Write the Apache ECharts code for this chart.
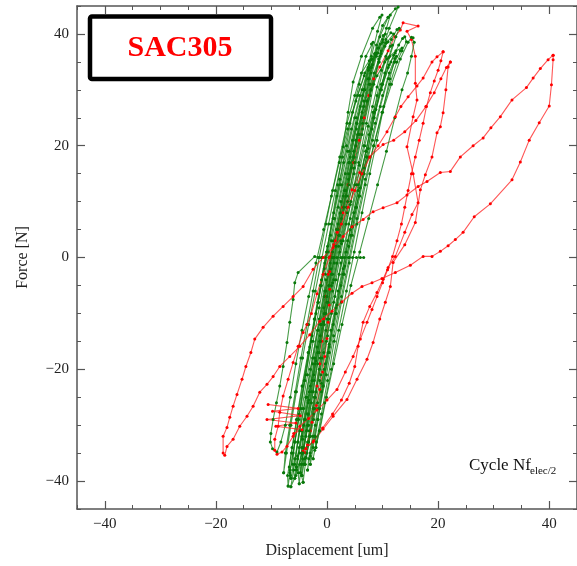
<!DOCTYPE html>
<html><head><meta charset="utf-8">
<script src="https://cdn.jsdelivr.net/npm/echarts@6/dist/echarts.min.js"></script>
<style>html,body{margin:0;padding:0;background:#fff}#c{width:577px;height:566px}</style>
</head><body><div id="c"></div>
<script>
const xTicks = [-40, -20, 0, 20, 40];
const yTicks = [-40, -20, 0, 20, 40];
const titleText = 'SAC305';
const xName = 'Displacement [um]';
const yName = 'Force [N]';

const greenLoop1 = [[-5.5,-38],[-5,-35],[-4.2,-30],[-3.2,-24],[-2.2,-18],[-1.2,-12],[-0.2,-6],[0.9,0],[2,6],[3.1,12],[4.2,18],[5.4,24],[6.8,30],[8.2,34.5],[9.4,37.5],[10,38.5],[9.6,38.2],[8.6,36.5],[7.4,32],[6,27],[4.6,21],[3.3,15],[2,9],[0.8,3],[-0.3,-3],[-1.4,-9],[-2.5,-15],[-3.5,-21],[-4.5,-27],[-5.3,-33],[-5.8,-37],[-5.5,-38]];
const greenLoop2 = [[-4.5,-39],[-4,-36],[-3.2,-31],[-2.3,-25],[-1.2,-18],[0,-11],[1.2,-4],[2.5,3],[3.7,10],[5,17],[6.4,24],[7.9,30],[9.4,35],[10.8,38.5],[12,40],[11.5,40.2],[10.6,39],[9.3,35],[7.8,29],[6.3,22],[4.9,15],[3.6,8],[2.3,1],[1,-6],[-0.2,-13],[-1.4,-20],[-2.5,-27],[-3.5,-33],[-4.3,-37],[-4.5,-39]];
const greenLoop3 = [[-7,-40.9],[-6.6,-38],[-5.8,-33],[-4.8,-27],[-3.8,-21],[-2.7,-14],[-1.6,-8],[-0.5,-2],[0.6,4],[1.8,11],[3,17],[4.4,23],[5.9,29],[7.5,33.5],[9,36.6],[8.6,36.4],[7.6,34.5],[6.3,30],[5,25],[3.7,19],[2.4,13],[1.1,7],[-0.1,1],[-1.2,-5],[-2.3,-11],[-3.4,-17],[-4.5,-23],[-5.5,-29],[-6.4,-35],[-7.1,-39],[-7,-40.9]];
const greenLoop4 = [[-6.5,-39.5],[-5.8,-36],[-4.9,-31],[-3.8,-25],[-2.6,-18],[-1.4,-11],[-0.2,-4],[1.1,3],[2.5,10],[3.9,17],[5.3,24],[6.7,30],[8,36],[9.1,40.5],[9.9,43.4],[9.5,43],[8.2,41],[6.2,36],[4.7,31.4],[3.8,26],[2.9,19.8],[1.9,13],[0.8,6],[-0.4,-1],[-1.6,-8],[-2.8,-15],[-4,-22],[-5.1,-29],[-6.1,-35],[-6.7,-38.5],[-6.5,-39.5]];
const greenLoop5 = [[-5,-40.5],[-4.6,-37],[-3.8,-32],[-2.8,-26],[-1.7,-19],[-0.5,-12],[0.8,-5],[2.1,2],[3.5,9],[4.9,16],[6.4,23],[7.9,30],[9.5,36],[11.2,41],[12.8,44.8],[12.3,44.5],[11,43],[9.5,39.5],[8,34],[6.6,28],[5.2,21],[3.9,14],[2.6,7],[1.3,0],[0,-7],[-1.2,-14],[-2.4,-21],[-3.5,-28],[-4.5,-34],[-5.2,-38.5],[-5,-40.5]];
const greenLoop6 = [[-4.3,-40.2],[-3.9,-37],[-3.1,-32],[-2.1,-25],[-0.9,-18],[0.3,-11],[1.6,-4],[2.9,3],[4.3,10],[5.7,17],[7.1,24],[8.4,31],[9.7,37],[10.7,41],[11.4,43.4],[11,43],[10,41.5],[8.9,38],[7.6,32],[6.2,25],[4.8,18],[3.4,11],[2.1,4],[0.8,-3],[-0.5,-10],[-1.7,-17],[-2.8,-24],[-3.7,-31],[-4.4,-36],[-4.6,-39],[-4.3,-40.2]];
const greenLoop7 = [[-3,-37],[-2.5,-34],[-1.7,-29],[-0.7,-23],[0.4,-16],[1.6,-9],[2.9,-2],[4.2,5],[5.6,12],[7,19],[8.5,26],[10,31],[11.5,35],[12.9,38],[13.6,39.2],[14,39.5],[14.3,38.6],[13.5,37],[12.6,35],[11.3,31],[9.9,26],[8.4,20],[6.9,14],[5.4,7],[4,0],[2.6,-7],[1.2,-14],[-0.1,-21],[-1.3,-27],[-2.3,-32],[-3,-35.5],[-3,-37]];
const greenLoop8 = [[-2.5,-36],[-1.9,-33],[-1,-28],[0.1,-22],[1.3,-15],[2.6,-8],[4,-1],[5.4,6],[6.9,13],[8.4,20],[10,26],[11.6,31],[13.2,35.5],[14.6,38.5],[15.2,39.4],[15.5,39.3],[15.7,38.5],[15.2,36],[14.5,33],[13.5,30],[12.2,25],[10.7,19],[9.1,13],[7.5,7],[5.9,1],[4.3,-5],[2.7,-12],[1.2,-19],[-0.1,-25],[-1.3,-31],[-2.2,-34.5],[-2.5,-36]];
const greenLoop9 = [[-5.5,-37.5],[-5,-34],[-4.1,-29],[-3,-23],[-1.8,-16],[-0.6,-9],[0.7,-2],[2,5],[3.4,12],[4.8,19],[6.3,26],[7.8,31],[9.3,35.5],[10.4,37.8],[11,38.6],[10.6,38.4],[9.7,36.5],[8.5,33],[7.2,28],[5.8,22],[4.4,16],[3,9],[1.6,2],[0.3,-5],[-1,-12],[-2.2,-19],[-3.4,-26],[-4.5,-32],[-5.3,-35.5],[-5.5,-37.5]];
const greenLoop10 = [[-3.8,-35.8],[-3.3,-33],[-2.4,-28],[-1.3,-22],[-0.1,-15],[1.2,-8],[2.5,-1],[3.9,6],[5.3,13],[6.8,20],[8.3,26],[9.8,31],[11.2,34.5],[12.3,36.6],[12,36.2],[11,34],[9.8,30],[8.4,25],[7,19],[5.6,13],[4.2,7],[2.8,0],[1.4,-7],[0.1,-14],[-1.1,-21],[-2.2,-27],[-3.1,-32],[-3.8,-35.8]];
const greenLoop11 = [[6.6,0],[6,0],[5.3,0],[4.6,0],[3.9,0],[3.2,0],[2.5,0],[1.8,0],[1.1,0],[0.4,0],[-0.3,0],[-1,0],[-1.6,0],[-2.2,0.2],[-5.2,-2.7],[-5.8,-4.5],[-6.1,-7.5],[-6.7,-11.6],[-7.2,-15.2],[-7.9,-19.5],[-8.5,-23],[-9.1,-26],[-9.7,-29],[-10.1,-31.5],[-10.2,-33],[-9.8,-34.2],[-9,-34.8],[-8.3,-33],[-7.5,-30],[-6.6,-25],[-5.6,-19],[-4.5,-13],[-3.3,-7],[-2,-1],[-0.6,5],[0.8,11],[2.2,17],[3.7,23],[5.2,28],[6.7,32.5],[8.1,35.5],[9.2,36.6],[8.8,36.4],[7.8,34],[6.6,30],[5.3,25],[4,19],[2.7,13],[1.4,7],[0.2,1],[-1,-5],[-2.2,-11],[-3.3,-17],[-4.4,-23],[-5.4,-29],[-6.3,-34],[-6.8,-37.5],[-6.6,-39]];
const greenLoop12 = [[-6.5,-41],[-6,-38],[-5.2,-33],[-4.2,-27],[-3,-20],[-1.7,-13],[-0.4,-6],[1,1],[2.4,8],[3.9,15],[5.5,22],[7.2,28],[9,32.5],[10.8,35.5],[12.4,37],[13.5,37.5],[13.2,37],[12.2,35],[11,32],[9.6,27],[8.2,21],[6.7,15],[5.2,9],[3.7,3],[2.2,-3],[0.8,-10],[-0.6,-17],[-2,-24],[-3.3,-30],[-4.5,-35],[-5.6,-39],[-6.5,-41]];
const greenLoop13 = [[-5.8,-39.5],[-5.3,-36],[-4.5,-31],[-3.6,-25],[-2.6,-19],[-1.6,-13],[-0.5,-7],[0.6,-1],[1.7,5],[2.9,11],[4.1,17],[5.3,23],[6.4,29],[7.4,34],[8.3,38.5],[8,38.2],[7,36],[5.8,31],[4.6,26],[3.5,20],[2.3,14],[1.2,8],[0.1,2],[-1,-4],[-2,-10],[-3.1,-16],[-4.1,-22],[-5,-28],[-5.8,-33],[-6.2,-37],[-5.8,-39.5]];
const greenLoop14 = [[-4.8,-38.5],[-4.3,-35],[-3.5,-30],[-2.5,-24],[-1.4,-17],[-0.2,-10],[1,-3],[2.3,4],[3.6,11],[4.9,18],[6.2,25],[7.6,31],[8.9,36],[10,39],[10.5,40],[10.1,39.7],[9.1,37.5],[7.9,33],[6.6,27],[5.2,20],[3.9,13],[2.6,6],[1.3,-1],[0,-8],[-1.2,-15],[-2.3,-22],[-3.4,-28],[-4.3,-34],[-4.9,-37],[-4.8,-38.5]];
const greenLoop15 = [[-3.5,-38],[-3,-35],[-2.1,-30],[-1,-24],[0.2,-17],[1.5,-10],[2.9,-3],[4.3,4],[5.7,11],[7.1,18],[8.5,25],[9.9,31],[11.3,36],[12.4,39.5],[13,41],[12.6,40.8],[11.6,39],[10.4,35],[9,29],[7.6,22],[6.2,15],[4.8,8],[3.4,1],[2,-6],[0.7,-13],[-0.5,-20],[-1.6,-27],[-2.6,-32],[-3.3,-36],[-3.5,-38]];
const greenLoop16 = [[-2,-34],[-1.4,-31],[-0.4,-26],[0.8,-20],[2.1,-13],[3.5,-6],[4.9,1],[6.3,8],[7.7,15],[9,21],[10.2,27],[11.3,32],[12.1,35],[12.5,36],[12.2,35.6],[11.2,33],[10,29],[8.7,24],[7.3,18],[5.9,11],[4.5,4],[3.1,-3],[1.7,-10],[0.4,-17],[-0.7,-23],[-1.6,-29],[-2.1,-32],[-2,-34]];
const greenLoop17 = [[-7.8,-38.5],[-7.3,-35],[-6.5,-30],[-5.5,-24],[-4.4,-18],[-3.3,-12],[-2.1,-6],[-0.9,0],[0.3,6],[1.5,12],[2.8,18],[4.1,24],[5.5,29],[6.8,33],[8,35.5],[7.6,35.2],[6.2,33],[5,29],[3.6,24],[2.3,18],[1,12],[-0.2,6],[-1.4,0],[-2.5,-6],[-3.6,-12],[-4.7,-18],[-5.7,-24],[-6.7,-30],[-7.5,-35],[-7.8,-38.5]];
const greenLoop18 = [[-4,-37],[-3.6,-35],[-3,-32],[-2.4,-29],[-1.7,-26],[-1,-22.5],[-0.3,-19],[0.4,-15.5],[1.1,-12],[1.8,-8.5],[2.5,-5],[3.2,-1.5],[3.9,2],[4.6,5.5],[5.3,9],[6,12.5],[6.7,16],[7.4,19.5],[8.1,23],[8.8,26.5],[9.6,30],[10.4,33],[11.1,35.8],[11.8,38],[11.4,37.8],[10.6,36],[9.8,33.5],[9,30.5],[8.2,27],[7.4,23.5],[6.6,20],[5.8,16.5],[5,13],[4.2,9.5],[3.4,6],[2.6,2.5],[1.8,-1],[1,-4.5],[0.2,-8],[-0.6,-11.5],[-1.3,-15],[-2,-18.5],[-2.7,-22],[-3.3,-25.5],[-3.9,-29],[-4.4,-32.5],[-4.6,-35],[-4,-37]];

const redLoop1 = [[40.7,36.2],[39.8,35.4],[38.4,33.8],[37.1,32.1],[35.9,30.4],[33.3,28.2],[31.2,25.2],[29.5,23.2],[28.1,21.4],[26.3,20],[24,18],[22.2,15.4],[20.4,15.2],[18,13.6],[16.4,12.7],[14.4,11.2],[12.6,9.8],[10.1,8.9],[8.3,8.2],[6.5,6.8],[4.5,5.5],[2.9,3.75],[1.1,1.8],[-0.7,0],[-2.5,-2.1],[-4.3,-5.2],[-6.1,-7],[-7.9,-8.75],[-9.7,-10.5],[-11.5,-12.5],[-13,-14.6],[-13.7,-17],[-14.6,-19.5],[-15.3,-21.8],[-16.2,-24.5],[-16.9,-26.6],[-17.5,-28.6],[-18,-30.4],[-18.7,-32],[-18.7,-35],[-18.4,-35.4],[-18,-33.8],[-16.9,-32.5],[-15.7,-30.2],[-14.4,-28.4],[-13.3,-26.6],[-12.1,-24.1],[-10.8,-22.7],[-9.7,-21.3],[-8.5,-19.5],[-6.7,-17.7],[-4.9,-15.9],[-3.1,-13.8],[-1.3,-11.4],[0.9,-9.6],[2.7,-7.9],[4.5,-6.4],[6.3,-5.2],[8.1,-4.5],[9.9,-3.75],[12.3,-2.7],[15,-1.4],[17.3,0.2],[18.9,0.2],[20.4,1.1],[21.8,2.1],[23.1,3.2],[24.5,4.5],[26.5,7.3],[29.4,9.6],[33.3,13.9],[34.8,17.1],[36.4,21],[38.2,24.1],[40,27.1],[40.4,30.9],[40.7,35.4],[40.7,36.2]];
const redLoop2 = [[20.9,36.8],[19.8,35.9],[18.9,35],[17.3,32.1],[16.2,30.7],[14.6,28.75],[13.3,27],[12.3,25.2],[10.8,22.5],[9.2,20],[7.7,18],[6.3,15],[5,12],[3.8,9],[2.6,6],[1.5,3],[0.4,0],[-0.7,-3],[-1.8,-6.5],[-2.8,-10],[-3.6,-12],[-4.3,-13.4],[-5.2,-15.9],[-6.1,-18.8],[-7,-21.8],[-7.9,-24.8],[-8.5,-27.7],[-8.8,-30.2],[-9.4,-32.5],[-9.4,-34.5],[-9,-35.2],[-8.1,-34.8],[-7.2,-33.75],[-6.1,-32],[-4.9,-30.2],[-3.3,-28.8],[-1.8,-27.3],[0,-25.5],[1.8,-23.6],[3.3,-20.5],[4.7,-17.7],[6,-14.6],[7.2,-11.6],[8.1,-9.3],[9,-7],[10,-4.5],[10.9,-2.2],[11.8,0.2],[12.6,3],[13.4,6],[14,9],[14.6,12],[15.2,15],[15.9,18],[16.6,21],[17.3,24],[17.9,27],[18.6,29.5],[19.3,31.6],[20,33.5],[20.5,35.2],[20.9,36.8]];
const redLoop3 = [[22.2,35],[21.8,34.1],[21.4,30],[20.9,25.9],[20.4,23.4],[19.8,22.3],[18.9,18],[17.7,14.8],[16.8,12.1],[15.9,6.25],[14,2.3],[11.9,-0.9],[11.4,-5.2],[10.5,-8],[9.5,-11],[8.3,-15.2],[7.2,-18.2],[5.4,-21.8],[3.6,-25.4],[1.1,-28.4],[-0.7,-30.7],[-2.5,-33],[-4.3,-34.6],[-4,-34.9],[-3.5,-33.5],[-2.7,-29.5],[-1.9,-26.5],[-1.3,-23.6],[-0.8,-20.5],[-0.4,-17.7],[0,-14.5],[0.2,-11.6],[0.4,-8.5],[0.5,-5.7],[0.5,-2.5],[0.6,0.2],[1.2,2.3],[1.8,4.5],[2.9,8],[3.7,10],[4.5,12.1],[5.9,15.2],[7.7,18],[10.1,20.2],[12,21],[14,22.5],[16,24.5],[17.8,27],[19.3,29.5],[20.5,32],[21.5,34],[22.2,35]];
const redLoop4 = [[-3.8,-34.2],[-3,-31],[-2.4,-27],[-1.8,-23],[-1.3,-19],[-0.9,-15],[-0.6,-11],[-0.3,-7],[0.2,-3],[0.9,1],[1.8,5],[2.8,9],[3.8,13],[4.8,17],[5.8,21],[6.7,25],[7.5,29],[8.4,32],[9.5,34.1],[11,37],[12.2,39.5],[13.2,40.7],[13.7,42],[16.4,41.4],[14.4,40.5],[15.2,39],[15.9,36],[15.9,31.2],[16.2,28.2],[15.5,25.2],[14.4,19.8],[15.5,15],[16.4,9.8],[15.3,7.7],[14,4.5],[12.3,0.2],[11,-1.8],[10.1,-3.9],[9,-6.25],[7.7,-8.75],[6.5,-11.6],[5.6,-15.9],[5,-19.5],[4,-22.5],[2.6,-25.5],[1,-28],[-0.8,-30.5],[-2.4,-32.8],[-3.8,-34.2]];
const redZigzag = [[-10.6,-26.3],[-5.2,-27],[-9.8,-27.5],[-4.8,-28.3],[-10.8,-29],[-5.6,-29.6],[-9.2,-30.2],[-4.5,-30.8],[-6,-31.5]];

const greenLoops = [greenLoop1, greenLoop2, greenLoop3, greenLoop4, greenLoop5, greenLoop6, greenLoop7, greenLoop8, greenLoop9, greenLoop10, greenLoop11, greenLoop12, greenLoop13, greenLoop14, greenLoop15, greenLoop16, greenLoop17, greenLoop18];
const redUnder = [redLoop3, redLoop4];
const redOver = [redLoop1, redLoop2, redZigzag];

const FONT = "'Liberation Serif','Times New Roman',serif";
const AX = '#555';
const fmt = v => (v < 0 ? '\u2212' + Math.abs(v) : String(v));

function mkSeries(d, kind) {
  const g = kind === 'g';
  return {
    type: 'line', data: d, xAxisIndex: 0, yAxisIndex: 0,
    symbol: 'circle', symbolSize: 3, showSymbol: true, showAllSymbol: true,
    silent: true, animation: false,
    lineStyle: { color: g ? 'rgba(20,128,20,0.78)' : 'rgba(255,30,30,0.75)', width: 1.1 },
    itemStyle: { color: g ? '#08780a' : '#ff0000' },
    z: 2
  };
}

function xAx(pos, major, labels) {
  return {
    type: 'value', min: -45, max: 45, position: pos,
    interval: major ? undefined : 5,
    axisLine: { show: !major, onZero: false, lineStyle: { color: AX, width: 1.5 } },
    axisTick: major ? { show: true, inside: true, length: 8, customValues: xTicks, lineStyle: { color: AX, width: 1.2 } }
                    : { show: true, inside: true, length: 4, lineStyle: { color: AX, width: 1 } },
    axisLabel: labels ? { show: true, customValues: xTicks, formatter: fmt, margin: 8, fontSize: 15, fontFamily: FONT, color: '#222' } : { show: false },
    splitLine: { show: false },
    name: labels ? xName : '', nameLocation: 'middle', nameGap: 34,
    nameTextStyle: { fontSize: 16, fontFamily: FONT, color: '#222' }
  };
}
function yAx(pos, major, labels) {
  return {
    type: 'value', min: -45, max: 45, position: pos,
    interval: major ? undefined : 5,
    axisLine: { show: !major, onZero: false, lineStyle: { color: AX, width: 1.5 } },
    axisTick: major ? { show: true, inside: true, length: 8, customValues: yTicks, lineStyle: { color: AX, width: 1.2 } }
                    : { show: true, inside: true, length: 4, lineStyle: { color: AX, width: 1 } },
    axisLabel: labels ? { show: true, customValues: yTicks, formatter: fmt, margin: 8, fontSize: 15, fontFamily: FONT, color: '#222' } : { show: false },
    splitLine: { show: false },
    name: labels ? yName : '', nameLocation: 'middle', nameGap: 46,
    nameTextStyle: { fontSize: 16, fontFamily: FONT, color: '#222' }
  };
}

const series = [];
redUnder.forEach(d => series.push(mkSeries(d, 'r')));
greenLoops.forEach(d => series.push(mkSeries(d, 'g')));
redOver.forEach(d => series.push(mkSeries(d, 'r')));

const chart = echarts.init(document.getElementById('c'), null, { renderer: 'canvas' });
chart.setOption({
  animation: false,
  backgroundColor: '#fff',
  grid: { left: 77, right: 0, top: 6, bottom: 57, containLabel: false },
  xAxis: [xAx('bottom', false, true), xAx('bottom', true, false), xAx('top', false, false), xAx('top', true, false)],
  yAxis: [yAx('left', false, true), yAx('left', true, false), yAx('right', false, false), yAx('right', true, false)],
  series: series,
  graphic: [
    { type: 'rect', z: 100, shape: { x: 90, y: 16.5, width: 181, height: 62.5, r: 2 }, style: { fill: '#fff', stroke: '#000', lineWidth: 4.5 } },
    { type: 'text', z: 101, x: 180, y: 48, style: { text: titleText, fill: '#ff0000', font: "bold 30px 'Liberation Serif'", align: 'center', verticalAlign: 'middle' } },
    { type: 'text', z: 101, x: 469, y: 474, style: { text: 'Cycle Nf', fill: '#111', font: "17px 'Liberation Serif'", align: 'left', verticalAlign: 'bottom' } },
    { type: 'text', z: 101, x: 530, y: 477, style: { text: 'elec/2', fill: '#111', font: "11px 'Liberation Serif'", align: 'left', verticalAlign: 'bottom' } }
  ]
});
</script>
</body></html>
